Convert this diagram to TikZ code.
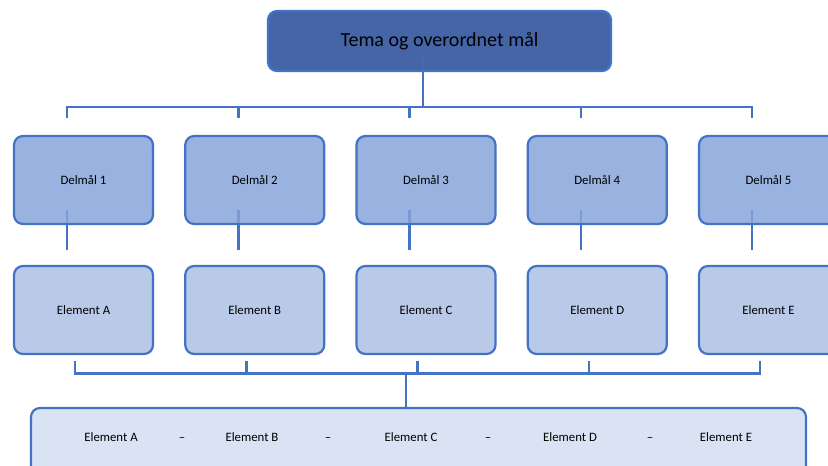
\documentclass[tikz,border=0pt]{standalone}
\usepackage{fontspec}
\setmainfont{Carlito}
\usetikzlibrary{calc}
\definecolor{acc}{HTML}{4472C4}
\definecolor{topfill}{HTML}{4565A7}
\definecolor{dfill}{HTML}{99B2DF}
\definecolor{efill}{HTML}{B9CAE8}
\definecolor{bfill}{HTML}{DAE3F3}
\tikzset{
  boxbase/.style={draw=acc, line width=2.2pt, rounded corners=9pt, inner sep=0pt},
  smallbox/.style={boxbase, minimum width=139pt, minimum height=88pt, font=\fontsize{12.8}{15}\selectfont},
  conn/.style={draw=acc, line width=2.5pt},
  connfaint/.style={draw=acc, line width=2.5pt, draw opacity=0.35},
  btext/.style={font=\fontsize{12.8}{15}\selectfont, inner sep=0pt, text height=1.6ex, text depth=0.3ex}
}
\begin{document}
\begin{tikzpicture}[x=1pt,y=-1pt]
\clip (0,0) rectangle (828,466);
\fill[white] (0,0) rectangle (828,466);
% top box
\node[boxbase, fill=topfill, minimum width=343pt, minimum height=60pt, font=\fontsize{20}{24}\selectfont] (top) at (439.5,41) {Tema og overordnet mål};
% delmål and element boxes
\foreach \i/\l in {1/A,2/B,3/C,4/D,5/E}{
  \pgfmathsetmacro\cx{83.5+171.25*(\i-1)}
  \node[smallbox, fill=dfill] (d\i) at (\cx,180) {Delmål \i};
  \node[smallbox, fill=efill] (e\i) at (\cx,310) {Element \l};
  \coordinate (tk\i) at (\cx-16.5,107);
  \coordinate (tke\i) at (\cx-16.5,118);
  \coordinate (ds\i) at (\cx-16.5,210);
  \coordinate (de\i) at (\cx-16.5,250);
  \coordinate (bt\i) at (\cx-8.5,361);
  \coordinate (bh\i) at (\cx-8.5,373.5);
}
% bottom box
\node[boxbase, fill=bfill, minimum width=775pt, minimum height=92pt] (bot) at (418.5,454) {};
\node[btext] (ba) at (111,438) {Element A};
\node[btext] (s1) at (182,438) {–};
\node[btext] (bb) at (252,438) {Element B};
\node[btext] (s2) at (328,438) {–};
\node[btext] (bc) at (411,438) {Element C};
\node[btext] (s3) at (488,438) {–};
\node[btext] (bd) at (570,438) {Element D};
\node[btext] (s4) at (650,438) {–};
\node[btext] (be) at (726,438) {Element E};
% top connectors
\coordinate (tin) at (423,57);
\coordinate (tbus) at (423,107);
\draw[connfaint] (tin) -- (tin |- top.south);
\draw[conn] (tin |- top.south) -- (tbus);
\draw[conn] (tke1) -- (tk1) -- (tk5) -- (tke5);
\foreach \i in {2,3,4}{\draw[conn] (tk\i) -- (tke\i);}
% delmål -> element
\foreach \i in {1,...,5}{
  \draw[connfaint] (ds\i) -- (ds\i |- d\i.south);
  \draw[conn] (ds\i |- d\i.south) -- (de\i);
}
% bottom bracket
\draw[conn] (bt1) -- (bh1) -- (bh5) -- (bt5);
\foreach \i in {2,3,4}{\draw[conn] (bt\i) -- (bh\i);}
\coordinate (bm) at (406,373.5);
\draw[conn] (bm) -- (bm |- bot.north);
\end{tikzpicture}
\end{document}
